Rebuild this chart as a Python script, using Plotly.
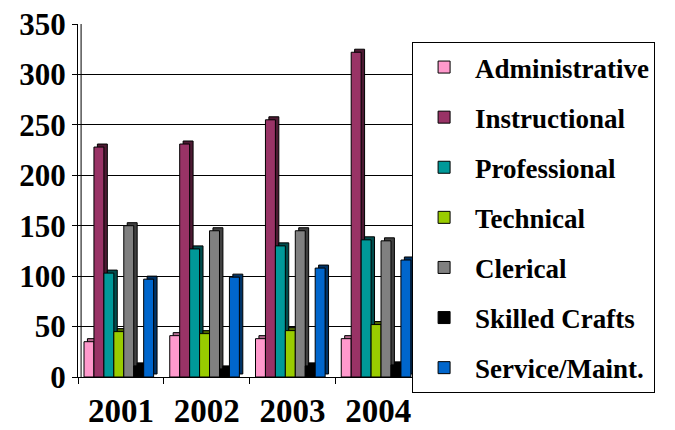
import plotly.graph_objects as go

years = ["2001", "2002", "2003", "2004"]
series_names = ["Administrative", "Instructional", "Professional", "Technical",
                "Clerical", "Skilled Crafts", "Service/Maint."]
administrative = [35, 41, 38, 38]
instructional = [228, 231, 255, 322]
professional = [103, 127, 130, 136]
technical = [45, 43, 46, 52]
clerical = [150, 145, 145, 135]
skilled_crafts = [11, 8, 11, 12]
service_maint = [97, 99, 108, 116]
y_ticks = [0, 50, 100, 150, 200, 250, 300, 350]

series_values = [administrative, instructional, professional, technical,
                 clerical, skilled_crafts, service_maint]
front_colors = ["#FF99CC", "#993366", "#009999", "#99CC00", "#808080", "#000000", "#0066CC"]
side_colors = ["#B36B8F", "#4D1A33", "#004D4D", "#4D6600", "#404040", "#000000", "#003366"]

x_idx = list(range(len(years)))
pitch = 0.116
start = -0.43
dx = 0.04
dy = 3

fig = go.Figure()
for i, (name, vals) in enumerate(zip(series_names, series_values)):
    fig.add_trace(go.Bar(
        x=x_idx, y=vals, base=dy, offset=start + i * pitch + dx, width=pitch,
        marker=dict(color=side_colors[i], line=dict(color="black", width=1)),
        showlegend=False, hoverinfo="skip", legendgroup=name))
    fig.add_trace(go.Bar(
        x=x_idx, y=vals, offset=start + i * pitch, width=pitch, name=name,
        marker=dict(color=front_colors[i], line=dict(color="black", width=1)),
        legendgroup=name))

font_family = '"Liberation Serif", "Times New Roman", Times, serif'
fig.update_layout(
    width=675, height=430,
    barmode="overlay",
    paper_bgcolor="white", plot_bgcolor="white",
    margin=dict(l=70, r=262, t=16, b=61, autoexpand=False),
    font=dict(family=font_family, color="black", weight="bold"),
    xaxis=dict(
        range=[-0.5, 3.5], tickvals=x_idx, ticktext=years, ticks="",
        showline=True, linecolor="black", linewidth=1, showgrid=False, zeroline=False,
        automargin=False, ticklabelstandoff=4, ticklabeloverflow="allow",
        tickfont=dict(family=font_family, size=33, weight="bold"),
        minor=dict(tickvals=[-0.5, 0.5, 1.5, 2.5, 3.5], ticks="outside",
                   ticklen=6, tickcolor="black", showgrid=False),
    ),
    yaxis=dict(
        range=[0, 350], tickvals=y_ticks, ticks="outside", ticklen=5, tickcolor="black",
        showline=True, linecolor="black", linewidth=1, automargin=False,
        ticklabeloverflow="allow",
        showgrid=True, gridcolor="black", gridwidth=1, zeroline=False,
        tickfont=dict(family=font_family, size=31, weight="bold"),
    ),
    legend=dict(
        x=0.974, y=0.949, xanchor="left", yanchor="top",
        bgcolor="white", bordercolor="black", borderwidth=1,
        font=dict(family=font_family, size=27, weight="bold"),
        tracegroupgap=12, itemwidth=52, maxheight=420,
    ),
    shapes=[dict(type="line", xref="paper", yref="paper", x0=0.009, x1=0.009, y0=0, y1=1,
                 line=dict(color="black", width=1))],
)

fig.write_html("out.html")
